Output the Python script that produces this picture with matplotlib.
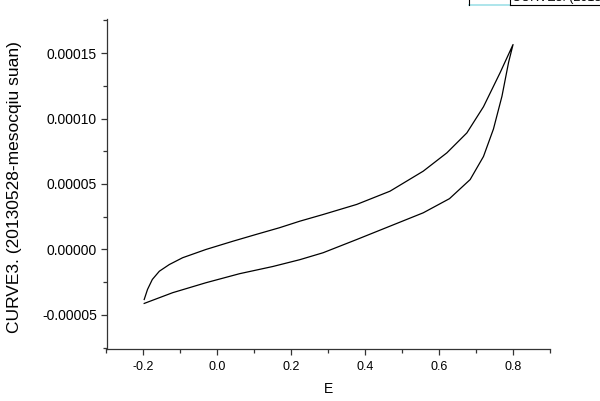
import numpy as np
import matplotlib
matplotlib.use("Agg")
import matplotlib.pyplot as plt
from matplotlib.ticker import MultipleLocator, FormatStrFormatter
from matplotlib.lines import Line2D

plt.rcParams['font.family'] = ['Liberation Sans', 'DejaVu Sans']

# forward sweep (upper branch)
e_up = [-0.198, -0.189, -0.176, -0.157, -0.130, -0.094, -0.031, 0.042, 0.105,
        0.168, 0.223, 0.286, 0.377, 0.467, 0.557, 0.621, 0.675, 0.72, 0.765,
        0.8]
i_up = [-3.82e-5, -3.05e-5, -2.29e-5, -1.66e-5, -1.15e-5, -6.3e-6, 0.0,
        6.3e-6, 1.15e-5, 1.66e-5, 2.16e-5, 2.67e-5, 3.44e-5, 4.45e-5,
        5.98e-5, 7.38e-5, 8.9e-5, 1.09e-4, 1.35e-4, 1.565e-4]
# reverse sweep (lower branch)
e_down = [0.8, 0.788, 0.77, 0.747, 0.72, 0.684, 0.628, 0.557, 0.467, 0.377,
          0.286, 0.223, 0.150, 0.060, -0.031, -0.121, -0.198]
i_down = [1.565e-4, 1.43e-4, 1.17e-4, 9.2e-5, 7.1e-5, 5.34e-5, 3.88e-5,
          2.8e-5, 1.78e-5, 7.6e-6, -2.5e-6, -7.8e-6, -1.3e-5, -1.85e-5,
          -2.54e-5, -3.3e-5, -4.12e-5]

series_name = "CURVE3. (20130528-mesocqiu suan)"

fig = plt.figure(figsize=(6.0, 4.01), dpi=100)
ax = fig.add_axes([106.5 / 600, 1 - 349 / 401, 443.5 / 600, 330 / 401])

E = np.concatenate([e_up, e_down])
I = np.concatenate([i_up, i_down])
ax.plot(E, I, color='black', lw=0.9)

ax.set_xlim(-0.3, 0.9)
ax.set_ylim(-0.000076, 0.000176)
ax.xaxis.set_major_locator(MultipleLocator(0.2))
ax.xaxis.set_minor_locator(MultipleLocator(0.1))
ax.yaxis.set_major_locator(MultipleLocator(0.00005))
ax.yaxis.set_minor_locator(MultipleLocator(0.000025))
ax.xaxis.set_major_formatter(FormatStrFormatter('%.1f'))
ax.yaxis.set_major_formatter(FormatStrFormatter('%.5f'))

for s in ['top', 'right']:
    ax.spines[s].set_visible(False)
for s in ['left', 'bottom']:
    ax.spines[s].set_color('#333333')
    ax.spines[s].set_linewidth(0.9)
ax.tick_params(which='major', direction='out', length=4, width=0.9,
               color='#333333', pad=3)
ax.tick_params(which='minor', direction='out', length=3, width=0.9,
               color='#333333')
ax.tick_params(axis='x', labelsize=9, pad=5)
ax.tick_params(axis='y', labelsize=10)

ax.set_xlabel('E', fontsize=10)
ax.xaxis.set_label_coords(0.5, -0.1)
ax.set_ylabel(series_name, fontsize=12.5)
ax.yaxis.set_label_coords(-0.19, 0.49)

# legend box, mostly cut off by the top edge
fig.add_artist(Line2D([469 / 600, 510 / 600], [1 - 5 / 401, 1 - 5 / 401],
                      color='#9fe0e8', lw=1.2))
fig.add_artist(Line2D([469 / 600, 469 / 600], [1 - 5 / 401, 1.0],
                      color='black', lw=0.8))
fig.add_artist(Line2D([510 / 600, 510 / 600], [1 - 5 / 401, 1.0],
                      color='black', lw=0.8))
fig.add_artist(Line2D([510 / 600, 1.0], [1 - 5 / 401, 1 - 5 / 401],
                      color='black', lw=0.8))
fig.text(512 / 600, 1 - 1 / 401, series_name, fontsize=9, va='baseline')

fig.savefig('out.png', dpi=100)
